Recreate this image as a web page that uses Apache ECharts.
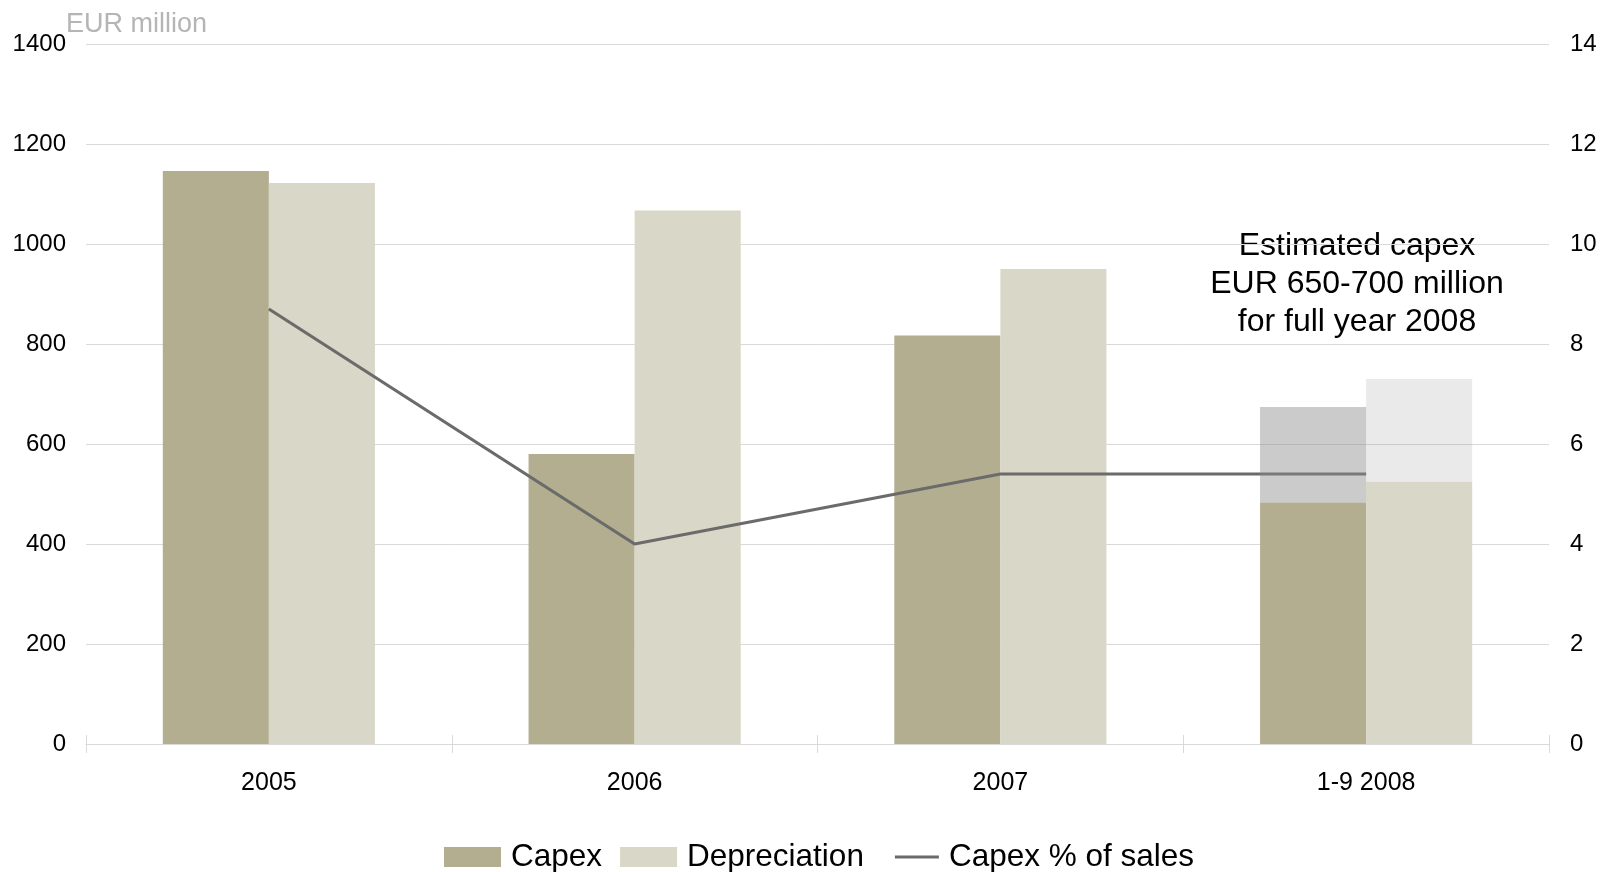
<!DOCTYPE html>
<html>
<head>
<meta charset="utf-8">
<script src="https://cdn.jsdelivr.net/npm/echarts@6/dist/echarts.min.js"></script>
<style>
  html, body { margin: 0; padding: 0; background: #ffffff; }
  #chart { width: 1603px; height: 872px; }
</style>
</head>
<body>
<div id="chart"></div>
<script>
// Capex and depreciation, EUR million, with capex as % of sales on the right axis
const categories = ['2005', '2006', '2007', '1-9 2008'];
const capex = [1146, 580, 817, 483];
const capexEstimate = [null, null, null, 191];          // extra up to the full-year estimate
const depreciation = [1122, 1067, 950, 524];
const depreciationEstimate = [null, null, null, 206];
const capexPctOfSales = [8.7, 4.0, 5.4, 5.4];
const leftTicks = { min: 0, max: 1400, interval: 200 };
const rightTicks = { min: 0, max: 14, interval: 2 };

const FONT = '"Liberation Sans", Arial, sans-serif';
const GRID_COLOR = '#d9d9d9';
const LINE_COLOR = '#6b6b6b';

const chart = echarts.init(document.getElementById('chart'), null, { renderer: 'canvas' });

chart.setOption({
  animation: false,
  backgroundColor: '#ffffff',
  grid: { left: 86, right: 54, top: 44, bottom: 128, containLabel: false },
  legend: {
    left: 444,
    top: 841,
    padding: 0,
    itemWidth: 57,
    itemHeight: 20,
    itemGap: 18,
    textStyle: { fontFamily: FONT, fontSize: 31.5, color: '#000000', padding: [0, 0, 0, 5] },
    data: [
      { name: 'Capex', icon: 'rect' },
      { name: 'Depreciation', icon: 'rect' },
      // short line, right-aligned inside the icon box
      { name: 'Capex % of sales', icon: 'path://M0,0L0,0M13,8.5L57,8.5L57,11.5L13,11.5ZM57,20L57,20' }
    ]
  },
  xAxis: [
    {
      type: 'category',
      data: categories,
      axisLine: { lineStyle: { color: GRID_COLOR, width: 1 } },
      axisTick: { show: true, length: 9, lineStyle: { color: GRID_COLOR, width: 1 } },
      axisLabel: { fontFamily: FONT, fontSize: 25, color: '#000000', margin: 27 }
    },
    {
      // inner half of the boundary ticks
      type: 'category',
      data: categories,
      position: 'bottom',
      axisLine: { show: false },
      axisTick: { show: true, inside: true, length: 9, lineStyle: { color: GRID_COLOR, width: 1 } },
      axisLabel: { show: false }
    }
  ],
  yAxis: [
    {
      type: 'value',
      min: leftTicks.min,
      max: leftTicks.max,
      interval: leftTicks.interval,
      axisLine: { show: false },
      axisTick: { show: false },
      splitLine: { lineStyle: { color: GRID_COLOR, width: 1 } },
      axisLabel: {
        fontFamily: FONT, fontSize: 24, color: '#000000', margin: 20,
        formatter: (v) => String(v)
      }
    },
    {
      type: 'value',
      min: rightTicks.min,
      max: rightTicks.max,
      interval: rightTicks.interval,
      axisLine: { show: false },
      axisTick: { show: false },
      splitLine: { show: false },
      axisLabel: {
        fontFamily: FONT, fontSize: 24, color: '#000000', margin: 21,
        formatter: (v) => String(v)
      }
    }
  ],
  series: [
    {
      name: 'Capex',
      type: 'bar',
      stack: 'capex',
      data: capex,
      barGap: '0%',
      barCategoryGap: '42%',
      itemStyle: { color: '#b3ae8f' },
      z: 2
    },
    {
      name: 'Capex estimate',
      type: 'bar',
      stack: 'capex',
      data: capexEstimate,
      itemStyle: { color: 'rgba(140,140,140,0.45)' },
      z: 4
    },
    {
      name: 'Depreciation',
      type: 'bar',
      stack: 'depr',
      data: depreciation,
      itemStyle: { color: '#d9d7c8' },
      z: 2
    },
    {
      name: 'Depreciation estimate',
      type: 'bar',
      stack: 'depr',
      data: depreciationEstimate,
      itemStyle: { color: 'rgba(150,150,150,0.2)' },
      z: 4
    },
    {
      name: 'Capex % of sales',
      type: 'line',
      yAxisIndex: 1,
      data: capexPctOfSales,
      symbol: 'none',
      lineStyle: { color: LINE_COLOR, width: 3.2 },
      itemStyle: { color: LINE_COLOR },
      z: 3
    }
  ],
  graphic: [
    {
      type: 'text',
      left: 66,
      top: 11,
      style: { text: 'EUR million', fontFamily: FONT, fontSize: 27, fill: '#b5b5b5' }
    },
    {
      type: 'text',
      x: 1357,
      y: 227,
      style: {
        text: 'Estimated capex\nEUR 650-700 million\nfor full year 2008',
        fontFamily: FONT,
        fontSize: 32,
        lineHeight: 38,
        fill: '#000000',
        align: 'center',
        verticalAlign: 'top'
      }
    }
  ]
});
</script>
</body>
</html>
